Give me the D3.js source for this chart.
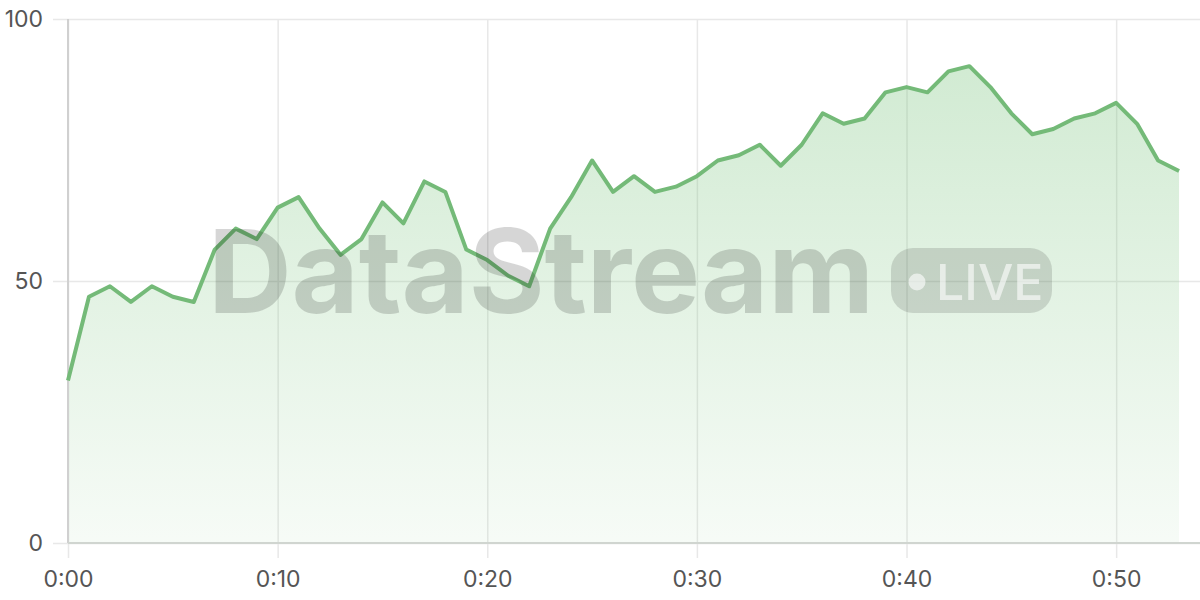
<!DOCTYPE html>
<html>
<head>
<meta charset="utf-8">
<script src="https://cdn.jsdelivr.net/npm/d3@7"></script>
<style>
  html, body { margin: 0; padding: 0; background: #fff; }
  svg { display: block; font-family: Inter, "Noto Sans", sans-serif; }
</style>
</head>
<body>
<svg id="chart" width="1200" height="600"></svg>
<script>
// minutes since start, one reading per minute
const minutes = d3.range(0, 54);
const values = [31, 47, 49, 46, 49, 47, 46, 56, 60, 58,
                64, 66, 60, 55, 58, 65, 61, 69, 67, 56,
                54, 51, 49, 60, 66, 73, 67, 70, 67, 68,
                70, 73, 74, 76, 72, 76, 82, 80, 81, 86,
                87, 86, 90, 91, 87, 82, 78, 79, 81, 82,
                84, 80, 73, 71];
const xTicks = [0, 10, 20, 30, 40, 50];
const yTicks = [0, 50, 100];
const watermark = "DataStream";
const badge = "LIVE";

const data = minutes.map((m, i) => ({ t: m, v: values[i] }));

const width = 1200, height = 600;
const margin = { top: 19, right: 0, bottom: 57, left: 68 };

const svg = d3.select("#chart");

const x = d3.scaleLinear()
    .domain([0, 54])
    .range([margin.left, width - margin.right]);

const y = d3.scaleLinear()
    .domain([0, 100])
    .range([height - margin.bottom, margin.top]);

const fmt = m => `${Math.floor(m / 60)}:${String(m % 60).padStart(2, "0")}`;

// gradient for the area fill
const defs = svg.append("defs");
const grad = defs.append("linearGradient")
    .attr("id", "fillGrad")
    .attr("gradientUnits", "userSpaceOnUse")
    .attr("x1", 0).attr("x2", 0)
    .attr("y1", y(92)).attr("y2", y(0));
grad.append("stop").attr("offset", "0%").attr("stop-color", "#6fbf73").attr("stop-opacity", 0.32);
grad.append("stop").attr("offset", "100%").attr("stop-color", "#6fbf73").attr("stop-opacity", 0.06);

// horizontal grid + y labels
const yAxis = svg.append("g")
    .attr("transform", `translate(${margin.left},0)`)
    .call(d3.axisLeft(y).tickValues(yTicks).tickSize(15).tickPadding(10));
yAxis.select(".domain").remove();
yAxis.selectAll(".tick line")
    .attr("x2", width - margin.left)
    .attr("x1", -15)
    .attr("stroke", "#e8e8e8")
    .attr("stroke-width", 1.5);
yAxis.selectAll(".tick text")
    .attr("fill", "#555")
    .attr("font-size", 23)
    .attr("font-family", "Inter, sans-serif");

// vertical grid + x labels
const xAxis = svg.append("g")
    .attr("transform", `translate(0,${y(0)})`)
    .call(d3.axisBottom(x).tickValues(xTicks).tickFormat(fmt).tickSize(15).tickPadding(13));
xAxis.select(".domain").remove();
xAxis.selectAll(".tick line")
    .attr("y1", -(y(0) - y(100)))
    .attr("y2", 15)
    .attr("stroke", "#e8e8e8")
    .attr("stroke-width", 1.5);
xAxis.selectAll(".tick text")
    .attr("fill", "#555")
    .attr("font-size", 23)
    .attr("font-family", "Inter, sans-serif");

// area + line
const area = d3.area()
    .x(d => x(d.t))
    .y0(y(0))
    .y1(d => y(d.v));

const line = d3.line()
    .x(d => x(d.t))
    .y(d => y(d.v));

svg.append("path")
    .datum(data)
    .attr("d", area)
    .attr("fill", "url(#fillGrad)");

// axis lines
svg.append("line")
    .attr("x1", margin.left).attr("x2", margin.left)
    .attr("y1", y(100)).attr("y2", y(0))
    .attr("stroke", "#d0d0d0").attr("stroke-width", 2);
svg.append("line")
    .attr("x1", margin.left).attr("x2", width)
    .attr("y1", y(0)).attr("y2", y(0))
    .attr("stroke", "#d0d5d0").attr("stroke-width", 2);

svg.append("path")
    .datum(data)
    .attr("d", line)
    .attr("fill", "none")
    .attr("stroke", "#74ba78")
    .attr("stroke-width", 4)
    .attr("stroke-linejoin", "round");

// watermark
const wm = svg.append("g").attr("pointer-events", "none");
wm.append("text")
    .attr("x", 208)
    .attr("y", 313)
    .attr("font-size", 116)
    .attr("font-weight", 700)
    .attr("font-family", "Inter, sans-serif")
    .attr("letter-spacing", -4)
    .attr("fill", "#000")
    .attr("fill-opacity", 0.16)
    .attr("textLength", 662)
    .text(watermark);

wm.append("rect")
    .attr("x", 891).attr("y", 248)
    .attr("width", 161).attr("height", 65)
    .attr("rx", 22)
    .attr("fill", "#000")
    .attr("fill-opacity", 0.13);
wm.append("circle")
    .attr("cx", 917).attr("cy", 282)
    .attr("r", 8.5)
    .attr("fill", "#fff")
    .attr("fill-opacity", 0.6);
wm.append("text")
    .attr("x", 936)
    .attr("y", 300)
    .attr("font-size", 50)
    .attr("font-weight", 500)
    .attr("font-family", "Inter, sans-serif")
    .attr("fill", "#fff")
    .attr("fill-opacity", 0.6)
    .text(badge);
</script>
</body>
</html>
